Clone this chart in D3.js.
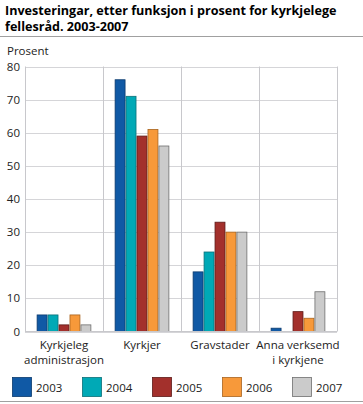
<!DOCTYPE html>
<html>
<head>
<meta charset="utf-8">
<script src="https://cdn.jsdelivr.net/npm/d3@7"></script>
<style>
  body { margin: 0; background: #fff; }
  svg { font-family: "Open Sans", sans-serif; }
</style>
</head>
<body>
<div id="chart"></div>
<script>
// --- données ---
const categories = [["Kyrkjeleg", "administrasjon"], ["Kyrkjer"], ["Gravstader"], ["Anna verksemd", "i kyrkjene"]];
const years = ["2003", "2004", "2005", "2006", "2007"];
const v2003 = [5, 76, 18, 1];
const v2004 = [5, 71, 24, 0];
const v2005 = [2, 59, 33, 6];
const v2006 = [5, 61, 30, 4];
const v2007 = [2, 56, 30, 12];
const series = [v2003, v2004, v2005, v2006, v2007];
const yTicks = [0, 10, 20, 30, 40, 50, 60, 70, 80];

const colors = ["#1059a5", "#00a9b6", "#a3302c", "#f7993a", "#cbcbcb"];
const strokes = ["#0b3a6e", "#0b6f78", "#5e1a18", "#a8641f", "#6f6f6f"];

const largeur = 363, hauteur = 404;
const svg = d3.select("#chart").append("svg")
    .attr("width", largeur).attr("height", hauteur);

// titre
svg.append("text").attr("x", 5).attr("y", 15)
    .attr("font-size", 12.6).attr("font-weight", "bold").attr("fill", "#000")
    .text("Investeringar, etter funksjon i prosent for kyrkjelege");
svg.append("text").attr("x", 5).attr("y", 31)
    .attr("font-size", 12.6).attr("font-weight", "bold").attr("fill", "#000")
    .text("fellesråd. 2003-2007");
svg.append("line").attr("x1", 0).attr("x2", largeur).attr("y1", 36.5).attr("y2", 36.5)
    .attr("stroke", "#a0a0a0").attr("stroke-width", 1);

svg.append("text").attr("x", 7).attr("y", 55)
    .attr("font-size", 11.5).attr("fill", "#222").text("Prosent");

// échelles
const x = d3.scaleBand().domain(d3.range(categories.length)).range([25, 337]);
const xInner = d3.scaleBand().domain(d3.range(years.length))
    .range([0, x.bandwidth()]).paddingOuter(1.06);
const y = d3.scaleLinear().domain([0, 80]).range([331.5, 66.5]);

// grille
svg.append("g").selectAll("line").data(yTicks).join("line")
    .attr("x1", 25).attr("x2", 337)
    .attr("y1", d => Math.round(y(d)) + 0.5).attr("y2", d => Math.round(y(d)) + 0.5)
    .attr("stroke", "#d5d5d8").attr("stroke-width", 1);
svg.append("g").selectAll("line").data(d3.range(categories.length + 1)).join("line")
    .attr("x1", d => 25 + d * x.bandwidth() + 0.5).attr("x2", d => 25 + d * x.bandwidth() + 0.5)
    .attr("y1", y(80)).attr("y2", y(0))
    .attr("stroke", "#c8c8cc").attr("stroke-width", 1);

// axe y
svg.append("g").selectAll("text").data(yTicks).join("text")
    .attr("x", 20).attr("y", d => y(d) + 4)
    .attr("text-anchor", "end").attr("font-size", 11.5).attr("fill", "#222")
    .text(d => d);

// barres
series.forEach((vals, si) => {
  svg.append("g").selectAll("rect").data(vals).join("rect")
    .attr("x", (d, ci) => x(ci) + xInner(si) + 0.5)
    .attr("width", xInner.bandwidth() - 1)
    .attr("y", d => y(d))
    .attr("height", d => y(0) - y(d))
    .attr("fill", colors[si])
    .attr("stroke", d => d > 0 ? strokes[si] : "none")
    .attr("stroke-width", 0.8);
});

// axe x
svg.append("line").attr("x1", 25).attr("x2", 337).attr("y1", y(0)).attr("y2", y(0))
    .attr("stroke", "#c8c8cc");
const lab = svg.append("g").selectAll("text").data(categories).join("text")
    .attr("text-anchor", "middle").attr("font-size", 11.5).attr("fill", "#222");
lab.each(function(d, i) {
  d3.select(this).selectAll("tspan").data(d).join("tspan")
    .attr("x", x(i) + x.bandwidth() / 2)
    .attr("y", (t, j) => 349 + j * 15)
    .text(t => t);
});

// légende
const leg = svg.append("g").selectAll("g").data(years).join("g")
    .attr("transform", (d, i) => `translate(${12 + i * 70},377)`);
leg.append("rect").attr("x", 0.5).attr("y", 0.5).attr("width", 19).attr("height", 19)
    .attr("fill", (d, i) => colors[i]).attr("stroke", (d, i) => strokes[i]).attr("stroke-width", 0.8);
leg.append("text").attr("x", 24).attr("y", 15).attr("font-size", 11.5).attr("fill", "#222")
    .text(d => d);

svg.append("line").attr("x1", 0).attr("x2", largeur).attr("y1", 401.5).attr("y2", 401.5)
    .attr("stroke", "#a0a0a0").attr("stroke-width", 1);
</script>
</body>
</html>
